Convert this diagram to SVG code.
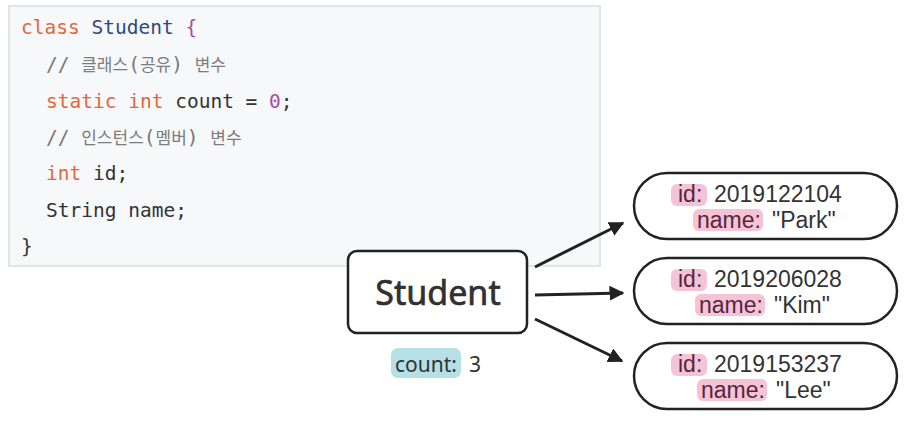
<svg xmlns="http://www.w3.org/2000/svg" width="911" height="444" viewBox="0 0 911 444">
<style>
.code{font-family:"DejaVu Sans Mono","Liberation Mono",monospace;font-size:19.5px;fill:#333}
.kw{fill:#e2683c}.cls{fill:#2e4a7d}.pur{fill:#a64aa8}.cm{fill:#777}
.ko{font-family:"Noto Sans CJK KR",sans-serif;font-size:17px;fill:#7c7c7c}
.lbl{font-family:"Noto Sans","Noto Sans CJK KR",sans-serif;fill:#333}
.val{font-family:"Liberation Sans",Arial,sans-serif;font-size:23px;fill:#333}
.key{fill:#5a2440}
.badge{fill:#f4c4d6}
.oval{fill:#fff;stroke:#222;stroke-width:2.5}
.conn{stroke:#222;stroke-width:3;fill:none;marker-end:url(#ah)}
</style>
<defs>
<marker id="ah" viewBox="0 0 10 10" refX="9" refY="5" markerWidth="5" markerHeight="5" orient="auto" markerUnits="strokeWidth">
<path d="M0,0 L10,5 L0,10 z" fill="#222"/>
</marker>
</defs>
<rect width="911" height="444" fill="#fff"/>
<g id="code">
<rect x="9" y="6" width="591" height="260" fill="#f6f8fa" stroke="#e2e4e7" stroke-width="2"/>
<text class="code" x="21" y="34"><tspan class="kw">class</tspan> <tspan class="cls">Student</tspan> <tspan class="pur">{</tspan></text>
<text class="code cm" x="46" y="71">// <tspan class="ko">클래스</tspan>(<tspan class="ko">공유</tspan>) <tspan class="ko">변수</tspan></text>
<text class="code" x="46" y="108"><tspan class="kw">static</tspan> <tspan class="kw">int</tspan> count = <tspan class="pur">0</tspan>;</text>
<text class="code cm" x="46" y="144">// <tspan class="ko">인스턴스</tspan>(<tspan class="ko">멤버</tspan>) <tspan class="ko">변수</tspan></text>
<text class="code" x="46" y="180"><tspan class="kw">int</tspan> id;</text>
<text class="code" x="46" y="217">String name;</text>
<text class="code" x="21" y="253">}</text>
</g>
<g id="connectors">
<line class="conn" x1="535" y1="267" x2="623" y2="223"/>
<line class="conn" x1="535" y1="295" x2="623" y2="293"/>
<line class="conn" x1="535" y1="319" x2="622" y2="361"/>
</g>
<g id="student">
<rect x="348" y="251" width="179" height="82" rx="9" fill="#fff" stroke="#222" stroke-width="2.5"/>
<text class="lbl" x="438" y="305" text-anchor="middle" font-size="34" fill="#222" stroke="#222" stroke-width="0.6">Student</text>
<rect x="391" y="348" width="70" height="30" rx="7" fill="#b4e0e6"/>
<text class="lbl" x="395" y="372" font-size="21" fill="#1d4f5b">count:<tspan x="469" fill="#333">3</tspan></text>
</g>
<g id="obj1">
<rect class="oval" x="634" y="173" width="263" height="66" rx="33"/>
<rect class="badge" x="671" y="184" width="36" height="22" rx="6"/>
<rect class="badge" x="693" y="209" width="70" height="22" rx="6"/>
<text class="val"><tspan class="key" x="678" y="202">id:</tspan><tspan x="714" y="202">2019122104</tspan><tspan class="key" x="697" y="228">name:</tspan><tspan x="772" y="228">"Park"</tspan></text>
</g>
<g id="obj2">
<rect class="oval" x="634" y="258" width="263" height="66" rx="33"/>
<rect class="badge" x="671" y="269" width="36" height="22" rx="6"/>
<rect class="badge" x="695" y="294" width="70" height="22" rx="6"/>
<text class="val"><tspan class="key" x="678" y="287">id:</tspan><tspan x="714" y="287">2019206028</tspan><tspan class="key" x="699" y="313">name:</tspan><tspan x="774" y="313">"Kim"</tspan></text>
</g>
<g id="obj3">
<rect class="oval" x="634" y="343" width="263" height="66" rx="33"/>
<rect class="badge" x="671" y="354" width="36" height="22" rx="6"/>
<rect class="badge" x="697" y="379" width="70" height="22" rx="6"/>
<text class="val"><tspan class="key" x="678" y="372">id:</tspan><tspan x="714" y="372">2019153237</tspan><tspan class="key" x="701" y="398">name:</tspan><tspan x="776" y="398">"Lee"</tspan></text>
</g>
</svg>
